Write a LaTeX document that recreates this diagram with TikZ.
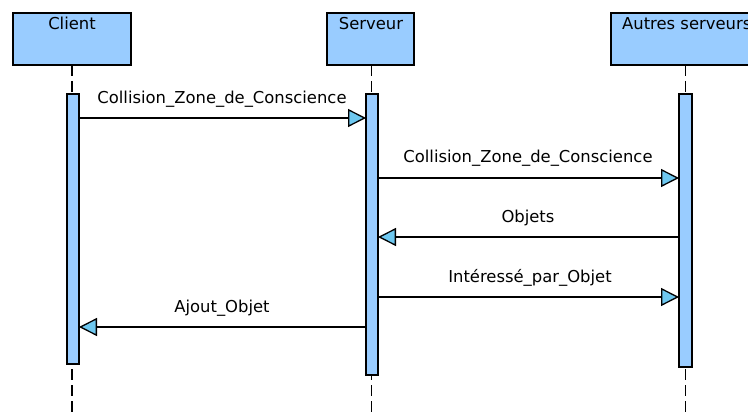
\documentclass[tikz,border=0pt]{standalone}
\usepackage{fontspec}
\setmainfont{DejaVu Sans}
\usetikzlibrary{arrows.meta}
\definecolor{boxblue}{RGB}{153,204,255}
\definecolor{tipblue}{RGB}{110,200,240}
\begin{document}
\begin{tikzpicture}[x=1pt,y=-1pt,
  every node/.style={font=\fontsize{16.4}{19}\selectfont},
  head/.style={draw=black,line width=1.4pt,fill=boxblue},
  bar/.style={draw=black,line width=1.2pt,fill=boxblue},
  life/.style={line width=1.4pt,dash pattern=on 11pt off 5pt},
  msg/.style={line width=1.3pt,-{Triangle[length=18pt,width=18pt,fill=tipblue]}},
  lbl/.style={anchor=base,inner sep=0pt}]
\useasboundingbox (0,0) rectangle (748,412);
\clip (0,0) rectangle (748,412);
% lifelines
\coordinate (cl) at (72,65); \coordinate (cle) at (72,412);
\coordinate (sl) at (371.5,65); \coordinate (sle) at (371.5,412);
\coordinate (al) at (685.5,65); \coordinate (ale) at (685.5,412);
\draw[life] (cl) -- (cle);
\draw[life] (sl) -- (sle);
\draw[life] (al) -- (ale);
% heads
\draw[head] (13,13) rectangle (131,65);
\node[lbl] (hc) at (72,30) {Client};
\draw[head] (327,13) rectangle (414,65);
\node[lbl] (hs) at (371,30) {Serveur};
\draw[head] (611,13) rectangle (760,65);
\node[lbl,anchor=base west] (ha) at (622,30) {Autres serveurs};
% activation bars
\draw[bar] (67,94) rectangle (79,364);
\draw[bar] (366,94) rectangle (378,375);
\draw[bar] (679,94) rectangle (692,367);
\coordinate (c1) at (79,118); \coordinate (s1) at (366,118);
\coordinate (s2) at (378,178); \coordinate (a2) at (679,178);
\coordinate (a3) at (679,237); \coordinate (s3) at (378,237);
\coordinate (s4) at (378,297); \coordinate (a4) at (679,297);
\coordinate (s5) at (366,327); \coordinate (c5) at (79,327);
\draw[msg] (c1) -- (s1);
\draw[msg] (s2) -- (a2);
\draw[msg] (a3) -- (s3);
\draw[msg] (s4) -- (a4);
\draw[msg] (s5) -- (c5);
\node[lbl] (m1) at (222,103) {Collision\_Zone\_de\_Conscience};
\node[lbl] (m2) at (528,163) {Collision\_Zone\_de\_Conscience};
\node[lbl] (m3) at (528,222) {Objets};
\node[lbl] (m4) at (530,282) {Intéressé\_par\_Objet};
\node[lbl] (m5) at (222,312) {Ajout\_Objet};
\end{tikzpicture}
\end{document}
